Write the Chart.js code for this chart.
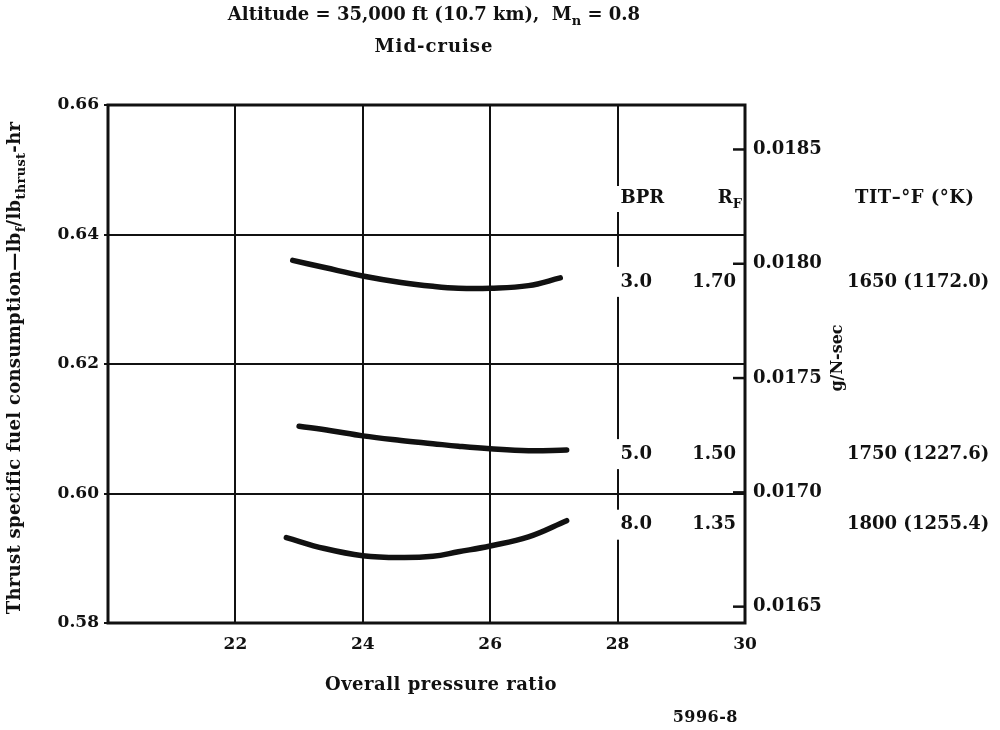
<!DOCTYPE html>
<html>
<head>
<meta charset="utf-8">
<script src="https://cdn.jsdelivr.net/npm/chart.js@4.4.1/dist/chart.umd.min.js"></script>
<style>
  html, body { margin: 0; padding: 0; background: #fff; }
  #wrap { width: 1000px; height: 730px; }
</style>
</head>
<body>
<div id="wrap"><canvas id="chart" width="1000" height="730"></canvas></div>
<script>
// mid-cruise TSFC vs overall pressure ratio, one curve per bypass ratio
const bpr3Ratio = [22.9, 23.4, 24.0, 24.6, 25.1, 25.5, 26.0, 26.6, 27.1];
const bpr3Sfc   = [0.6360, 0.6349, 0.6336, 0.6326, 0.6320, 0.6317, 0.6317, 0.6321, 0.6333];

const bpr5Ratio = [23.0, 23.5, 24.0, 24.6, 25.1, 25.5, 26.0, 26.6, 27.2];
const bpr5Sfc   = [0.6104, 0.6097, 0.6089, 0.6082, 0.6077, 0.6073, 0.6069, 0.6066, 0.6067];

const bpr8Ratio = [22.8, 23.4, 24.0, 24.6, 25.1, 25.5, 26.0, 26.6, 27.2];
const bpr8Sfc   = [0.5932, 0.5915, 0.5904, 0.5901, 0.5903, 0.5910, 0.5919, 0.5933, 0.5958];

// table at the right of the curves
const bprLabels = ['3.0', '5.0', '8.0'];
const rfLabels  = ['1.70', '1.50', '1.35'];
const titLabels = ['1650 (1172.0)', '1750 (1227.6)', '1800 (1255.4)'];

// axis ticks
const xTicks = [22, 24, 26, 28, 30];
const sfcTicks = [0.58, 0.60, 0.62, 0.64, 0.66];
const metricTicks = [0.0165, 0.0170, 0.0175, 0.0180, 0.0185];

const LB_HR_TO_G_NS = 0.028325; // lb/(lbf-hr) -> g/(N-sec)

const FONT = '"DejaVu Serif", serif';
const INK = '#111';

function toPoints(xs, ys) {
  return xs.map((x, i) => ({ x: x, y: ys[i] }));
}

// text with subscripts: parts = [[text, isSub], ...]
function setFont(ctx, size, sub) {
  ctx.font = 'bold ' + (sub ? Math.round(size * 0.72) : size) + 'px ' + FONT;
}
function richWidth(ctx, parts, size) {
  let w = 0;
  parts.forEach(p => { setFont(ctx, size, p[1]); w += ctx.measureText(p[0]).width; });
  return w;
}
function drawRich(ctx, parts, x, y, size, align, spacing) {
  ctx.letterSpacing = (spacing || 0) + 'px';
  const w = richWidth(ctx, parts, size);
  let cx = align === 'center' ? x - w / 2 : (align === 'right' ? x - w : x);
  ctx.textBaseline = 'middle';
  ctx.textAlign = 'left';
  parts.forEach(p => {
    setFont(ctx, size, p[1]);
    ctx.fillText(p[0], cx, p[1] ? y + size * 0.35 : y);
    cx += ctx.measureText(p[0]).width;
  });
  ctx.letterSpacing = '0px';
}

const annotations = {
  id: 'annotations',
  beforeDatasetsDraw(chart) {
    const { ctx, chartArea: a } = chart;
    ctx.save();
    ctx.strokeStyle = INK;
    ctx.lineWidth = 3;
    ctx.strokeRect(a.left, a.top, a.right - a.left, a.bottom - a.top);
    // short inward ticks for the metric scale
    const y2 = chart.scales.y2;
    ctx.lineWidth = 2.5;
    metricTicks.forEach(v => {
      const py = y2.getPixelForValue(v);
      ctx.beginPath();
      ctx.moveTo(a.right - 12, py);
      ctx.lineTo(a.right, py);
      ctx.stroke();
    });
    ctx.restore();
  },
  afterDraw(chart) {
    const { ctx, chartArea: a } = chart;
    const x = chart.scales.x, y = chart.scales.y;
    ctx.save();
    ctx.fillStyle = INK;

    drawRich(ctx, [['Altitude = 35,000 ft (10.7 km),  M', false], ['n', true], [' = 0.8', false]], 434, 15, 18, 'center');
    drawRich(ctx, [['Mid-cruise', false]], 434, 47, 18, 'center', 1);
    drawRich(ctx, [['Overall pressure ratio', false]], 441, 685, 18, 'center', 0.5);
    drawRich(ctx, [['5996-8', false]], 738, 718, 16, 'right', 0.5);

    ctx.save();
    ctx.translate(15, (a.top + a.bottom) / 2 + 4);
    ctx.rotate(-Math.PI / 2);
    drawRich(ctx, [['Thrust specific fuel consumption\u2014lb', false], ['f', true], ['/lb', false], ['thrust', true], ['-hr', false]], 0, 0, 18, 'center', 0.3);
    ctx.restore();

    ctx.save();
    ctx.translate(838, 358);
    ctx.rotate(-Math.PI / 2);
    drawRich(ctx, [['g/N-sec', false]], 0, 0, 16, 'center');
    ctx.restore();

    // column headers; the 28 grid line is broken behind the BPR column
    const gx = x.getPixelForValue(28);
    ctx.fillStyle = '#fff';
    ctx.fillRect(gx - 2, 186, 6, 26);
    ctx.fillStyle = INK;
    drawRich(ctx, [['BPR', false]], gx + 3, 198, 18, 'left');
    drawRich(ctx, [['R', false], ['F', true]], a.right - 3, 198, 18, 'right');
    drawRich(ctx, [['TIT\u2013\u00b0F (\u00b0K)', false]], 855, 198, 18, 'left', 0.5);

    // one row per curve, level with the curve's right end
    const ends = [bpr3Sfc, bpr5Sfc, bpr8Sfc].map(s => s[s.length - 1]);
    ends.forEach((v, i) => {
      const py = y.getPixelForValue(v) + 4;
      ctx.fillStyle = '#fff';
      ctx.fillRect(gx - 2, py - 15, 6, 30);
      ctx.fillStyle = INK;
      drawRich(ctx, [[bprLabels[i], false]], gx + 3, py, 18, 'left');
      drawRich(ctx, [[rfLabels[i], false]], a.right - 9, py, 18, 'right');
      drawRich(ctx, [[titLabels[i], false]], 847, py, 18, 'left');
    });
    ctx.restore();
  }
};

const lineStyle = {
  showLine: true,
  borderColor: INK,
  borderWidth: 5.5,
  borderCapStyle: 'round',
  pointRadius: 0,
  tension: 0.4,
  fill: false
};

new Chart(document.getElementById('chart'), {
  type: 'scatter',
  data: {
    datasets: [
      Object.assign({ label: 'BPR 3.0', data: toPoints(bpr3Ratio, bpr3Sfc) }, lineStyle),
      Object.assign({ label: 'BPR 5.0', data: toPoints(bpr5Ratio, bpr5Sfc) }, lineStyle),
      Object.assign({ label: 'BPR 8.0', data: toPoints(bpr8Ratio, bpr8Sfc) }, lineStyle)
    ]
  },
  options: {
    responsive: false,
    animation: false,
    layout: { padding: { top: 105, left: 0, right: 0, bottom: 0 } },
    plugins: { legend: { display: false }, tooltip: { enabled: false } },
    scales: {
      x: {
        type: 'linear',
        min: 20, max: 30,
        afterBuildTicks: s => { s.ticks = [20].concat(xTicks).map(v => ({ value: v })); },
        afterFit: s => { s.height = 107; },
        border: { display: false },
        grid: { color: INK, lineWidth: 2, drawTicks: false },
        ticks: {
          padding: 11,
          color: INK,
          font: { family: FONT, size: 17, weight: 'bold' },
          callback: v => (v === 20 ? '' : String(v))
        }
      },
      y: {
        type: 'linear',
        min: 0.58, max: 0.66,
        afterBuildTicks: s => { s.ticks = sfcTicks.map(v => ({ value: v })); },
        afterFit: s => { s.width = 108; },
        border: { display: false },
        grid: { color: INK, lineWidth: 2, drawTicks: true, tickLength: 4 },
        ticks: {
          padding: 5,
          color: INK,
          font: { family: FONT, size: 17, weight: 'bold' },
          callback: v => v.toFixed(2)
        }
      },
      y2: {
        type: 'linear',
        position: 'right',
        min: 0.58 * LB_HR_TO_G_NS, max: 0.66 * LB_HR_TO_G_NS,
        afterBuildTicks: s => { s.ticks = metricTicks.map(v => ({ value: v })); },
        afterFit: s => { s.width = 255; },
        border: { display: false },
        grid: { drawOnChartArea: false, drawTicks: false },
        ticks: {
          padding: 8,
          color: INK,
          font: { family: FONT, size: 18, weight: 'bold' },
          callback: v => v.toFixed(4)
        }
      }
    }
  },
  plugins: [annotations]
});
</script>
</body>
</html>
